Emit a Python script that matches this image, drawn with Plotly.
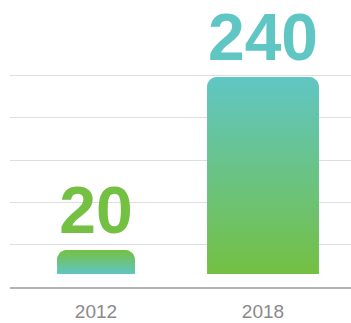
import math
import plotly.graph_objects as go

# Data
years = ["2012", "2018"]
counts = [20, 240]

# Colours
TEAL = "#60C6C4"
GREEN = "#74C043"
top_colors = [GREEN, TEAL]      # colour at the top of each bar
bottom_colors = [TEAL, GREEN]   # colour at the bottom of each bar
label_colors = [GREEN, TEAL]

# Geometry / styling
W, H = 351, 323
MARGIN = dict(l=10, r=0, t=0, b=36)
bar_widths = [0.467, 0.67]
bar_base = -10.5
y_range = [-27.0, 338.0]
x_range = [-0.515, 1.527]
corner_px = 10
grid_step_px = 42.3
n_grid = 5

plot_w = W - MARGIN["l"] - MARGIN["r"]
plot_h = H - MARGIN["t"] - MARGIN["b"]
x_units_per_px = (x_range[1] - x_range[0]) / plot_w
y_units_per_px = (y_range[1] - y_range[0]) / plot_h
grid_vals = [y_range[0] + k * grid_step_px * y_units_per_px for k in range(1, n_grid + 1)]
positions = list(range(len(years)))


def rounded_outline(xc, width, base, top, r_px, steps=12):
    """Outline of a bar with rounded top corners, in data units."""
    rx, ry = r_px * x_units_per_px, r_px * y_units_per_px
    x0, x1 = xc - width / 2, xc + width / 2
    xs, ys = [x0], [base]
    for i in range(steps + 1):          # top-left corner
        a = math.pi - (math.pi / 2) * i / steps
        xs.append(x0 + rx + rx * math.cos(a))
        ys.append(top - ry + ry * math.sin(a))
    for i in range(steps + 1):          # top-right corner
        a = math.pi / 2 - (math.pi / 2) * i / steps
        xs.append(x1 - rx + rx * math.cos(a))
        ys.append(top - ry + ry * math.sin(a))
    xs += [x1, x0]
    ys += [base, base]
    return xs, ys


fig = go.Figure()

# Rounded bars carrying the value labels
fig.add_trace(go.Bar(
    x=positions,
    y=[v - bar_base for v in counts],
    base=bar_base,
    width=bar_widths,
    marker=dict(color=top_colors, cornerradius=corner_px, line=dict(width=0)),
    text=[str(v) for v in counts],
    textposition="outside",
    constraintext="none",
    cliponaxis=False,
    textfont=dict(family="Liberation Sans", size=66, color=label_colors, weight="bold"),
    hoverinfo="skip",
    showlegend=False,
))

# Vertical gradient fill over each bar
for x, v, w, c_top, c_bot in zip(positions, counts, bar_widths, top_colors, bottom_colors):
    xs, ys = rounded_outline(x, w, bar_base, v, corner_px)
    fig.add_trace(go.Scatter(
        x=xs, y=ys,
        mode="lines",
        line=dict(width=0),
        fill="toself",
        fillgradient=dict(type="vertical", colorscale=[[0, c_bot], [1, c_top]],
                          start=bar_base, stop=v),
        hoverinfo="skip",
        showlegend=False,
    ))

fig.update_layout(
    width=W, height=H,
    margin=MARGIN,
    paper_bgcolor="white",
    plot_bgcolor="white",
    barmode="overlay",
    showlegend=False,
    xaxis=dict(
        range=x_range,
        tickmode="array",
        tickvals=positions,
        ticktext=years,
        tickfont=dict(family="Liberation Sans", size=19, color="#8a8a8a"),
        ticks="outside", ticklen=6, tickcolor="rgba(0,0,0,0)",
        showgrid=False, zeroline=False,
        showline=True, linecolor="#b3b3b3", linewidth=1.5,
        fixedrange=True,
    ),
    yaxis=dict(
        range=y_range,
        tickmode="array",
        tickvals=grid_vals,
        showticklabels=False,
        ticks="",
        showgrid=True, gridcolor="#dedede", gridwidth=1,
        zeroline=False, showline=False,
        fixedrange=True,
    ),
)

fig.write_html("out.html", config={"displayModeBar": False})
